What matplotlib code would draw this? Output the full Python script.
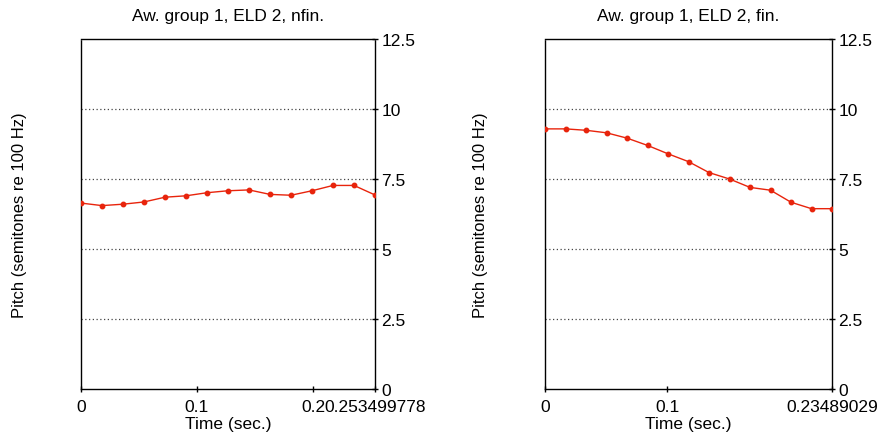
import numpy as np
import matplotlib
matplotlib.use("Agg")
import matplotlib.pyplot as plt

# ---- data ----
titles = ["Aw. group 1, ELD 2, nfin.", "Aw. group 1, ELD 2, fin."]
durations = [0.253499778, 0.23489029]
xtick_labels = [["0", "0.1", "0.2", "0.253499778"], ["0", "0.1", "0.23489029"]]
xtick_values = [[0, 0.1, 0.2, 0.253499778], [0, 0.1, 0.23489029]]

pitch_nfin = [6.64, 6.55, 6.60, 6.68, 6.85, 6.90, 7.01, 7.08, 7.11,
              6.95, 6.92, 7.08, 7.27, 7.27, 6.93]
pitch_fin = [9.29, 9.29, 9.24, 9.15, 8.96, 8.70, 8.40, 8.12, 7.73,
             7.50, 7.20, 7.10, 6.67, 6.44, 6.44]
series = [pitch_nfin, pitch_fin]

yticks = [0, 2.5, 5, 7.5, 10, 12.5]
ytick_labels = ["0", "2.5", "5", "7.5", "10", "12.5"]

plt.rcParams["font.family"] = ["Liberation Sans", "DejaVu Sans"]

fig = plt.figure(figsize=(8.83, 4.35), dpi=100)
rects = [[81 / 883, 45 / 435, 294 / 883, 350 / 435],
         [545 / 883, 45 / 435, 287 / 883, 350 / 435]]
ylabel_x = [(27 - 81) / 294, (488 - 545) / 287]

for k in range(2):
    ax = fig.add_axes(rects[k])
    y = series[k]
    t = np.linspace(0, durations[k], len(y))
    ax.plot(t, y, color="#e8240c", lw=1.0, marker="o", ms=3.2, zorder=3)

    ax.set_xlim(0, durations[k])
    ax.set_ylim(0, 12.5)
    for g in [2.5, 5, 7.5, 10]:
        ax.axhline(g, color="#444444", lw=0.9, ls=(0, (1, 2)), zorder=1)

    for s in ax.spines.values():
        s.set_linestyle((0, (1, 1)))
        s.set_linewidth(1.0)
        s.set_color("black")

    ax.yaxis.tick_right()
    ax.set_yticks(yticks)
    ax.set_yticklabels(ytick_labels)
    ax.set_xticks(xtick_values[k])
    ax.set_xticklabels(xtick_labels[k])
    ax.tick_params(axis="both", direction="inout", length=5, width=1, pad=2,
                   labelsize=12.5)
    ax.tick_params(axis="x", pad=5)

    ax.set_title(titles[k], fontsize=12.5, pad=14)
    ax.set_xlabel("Time (sec.)", fontsize=12.5, labelpad=1)
    ax.yaxis.set_label_position("left")
    ax.set_ylabel("Pitch (semitones re 100 Hz)", fontsize=12)
    ax.yaxis.set_label_coords(ylabel_x[k], 0.5)

fig.savefig("out.png", dpi=100)
